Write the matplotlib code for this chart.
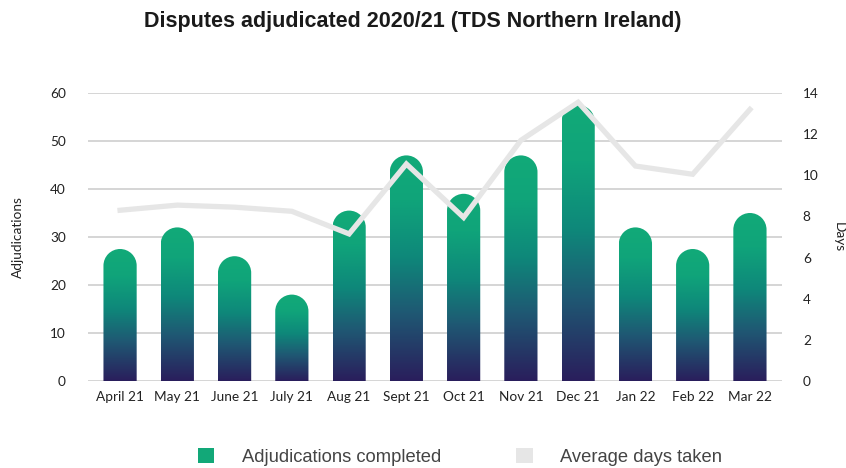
import numpy as np
import matplotlib
matplotlib.use("Agg")
import matplotlib.pyplot as plt
from matplotlib.colors import LinearSegmentedColormap
from matplotlib.path import Path
from matplotlib.patches import PathPatch, Patch

# --- data ---
months = ["April 21", "May 21", "June 21", "July 21", "Aug 21", "Sept 21",
          "Oct 21", "Nov 21", "Dec 21", "Jan 22", "Feb 22", "Mar 22"]
adjudications = [27.5, 32, 26, 18, 35.5, 47, 39, 47, 57.5, 32, 27.5, 35]
avg_days = [8.3, 8.55, 8.45, 8.25, 7.15, 10.55, 7.95, 11.7, 13.55, 10.45, 10.05, 13.2]

# --- styling ---
GREEN = "#12A878"
LINE_GREY = "#E6E6E6"
GRID_GREY = "#CACACA"
TEXT = "#222222"
bar_cmap = LinearSegmentedColormap.from_list(
    "tds", [(0.0, "#2A1E5C"), (0.3, "#1F5873"), (0.55, "#0E887A"),
            (0.8, "#10A47A"), (1.0, "#12AA78")])

TICK_FONT = "Lato"
BAR_W = 0.58


def rounded_bar_path(xc, width, height, r_y):
    """Bar outline from 0 to height with a half-ellipse cap on top."""
    x0, x1 = xc - width / 2, xc + width / 2
    body_top = max(height - r_y, 0)
    arc = Path.arc(0, 180)
    arc_verts = arc.vertices * [width / 2, r_y] + [xc, body_top]
    verts = [(x0, 0), (x1, 0), (x1, body_top)] + [tuple(v) for v in arc_verts[1:]] + [(x0, 0)]
    codes = [Path.MOVETO, Path.LINETO, Path.LINETO] + list(arc.codes[1:]) + [Path.CLOSEPOLY]
    return Path(verts, codes)


fig = plt.figure(figsize=(8.46, 4.68), dpi=100)
ax = fig.add_axes([88 / 846, 87 / 468, 694 / 846, 288 / 468])
ax2 = ax.twinx()

x = np.arange(len(months))
xlim = (-0.56, len(months) - 0.44)
ax.set_xlim(*xlim)
ax.set_ylim(0, 60)
ax2.set_ylim(0, 14)

# gridlines on the left axis, behind the bars
ax.set_yticks(np.arange(0, 61, 10))
ax.grid(axis="y", color=GRID_GREY, linewidth=1.1)
ax.set_axisbelow(True)
for a in (ax, ax2):
    for s in a.spines.values():
        s.set_visible(False)

# convert half bar width (x units) into y units so caps are round in pixels
fig.canvas.draw()
bb = ax.get_window_extent()
px_per_x = bb.width / (xlim[1] - xlim[0])
px_per_y = bb.height / 60
r_y = (BAR_W / 2) * px_per_x / px_per_y

grad = np.linspace(0, 1, 256).reshape(-1, 1)
for xi, v in zip(x, adjudications):
    clip = PathPatch(rounded_bar_path(xi, BAR_W, v, r_y), transform=ax.transData,
                     facecolor="none", edgecolor="none")
    im = ax.imshow(grad, cmap=bar_cmap, origin="lower", aspect="auto",
                   extent=(xi - BAR_W / 2, xi + BAR_W / 2, 0, v), zorder=2,
                   interpolation="bilinear")
    im.set_clip_path(clip)

ax.set_xlim(*xlim)
ax.set_ylim(0, 60)

ax2.plot(x, avg_days, color=LINE_GREY, linewidth=3.8, solid_joinstyle="miter",
         zorder=5)

ax.set_xticks(x)
ax.set_xticklabels(months, fontsize=9.8, family=TICK_FONT, color=TEXT)
ax.tick_params(axis="x", length=0, pad=7)
ax.tick_params(axis="y", length=0, pad=16, labelsize=9.8, labelcolor=TEXT)
for t in ax.get_yticklabels():
    t.set_family(TICK_FONT)
ax2.set_yticks(np.arange(0, 15, 2))
ax2.tick_params(axis="y", length=0, pad=15, labelsize=9.8, labelcolor=TEXT)
for t in ax2.get_yticklabels():
    t.set_family(TICK_FONT)

fig.text(18 / 846, 1 - 237 / 468, "Adjudications", rotation=90, ha="center",
         va="center", fontsize=9.8, family=TICK_FONT, color=TEXT)
fig.text(845 / 846, 1 - 237 / 468, "Days", rotation=270, ha="right",
         va="center", fontsize=9.8, family=TICK_FONT, color=TEXT)

fig.text(413 / 846, 1 - 21 / 468, "Disputes adjudicated 2020/21 (TDS Northern Ireland)",
         ha="center", va="center", fontsize=15.5, fontweight="bold",
         family="Liberation Sans", color="#1A1A1A")

handles = [Patch(facecolor=GREEN, edgecolor="none"),
           Patch(facecolor=LINE_GREY, edgecolor="none")]
fig.legend(handles, ["Adjudications completed", "Average days taken"],
           loc="center", bbox_to_anchor=(460 / 846, 1 - 457 / 468), ncol=2,
           frameon=False, handlelength=0.9, handleheight=0.9,
           handletextpad=1.5, columnspacing=4.1,
           prop={"family": "Liberation Sans", "size": 13.2}, labelcolor="#444444")

fig.savefig("out.png", dpi=100)
